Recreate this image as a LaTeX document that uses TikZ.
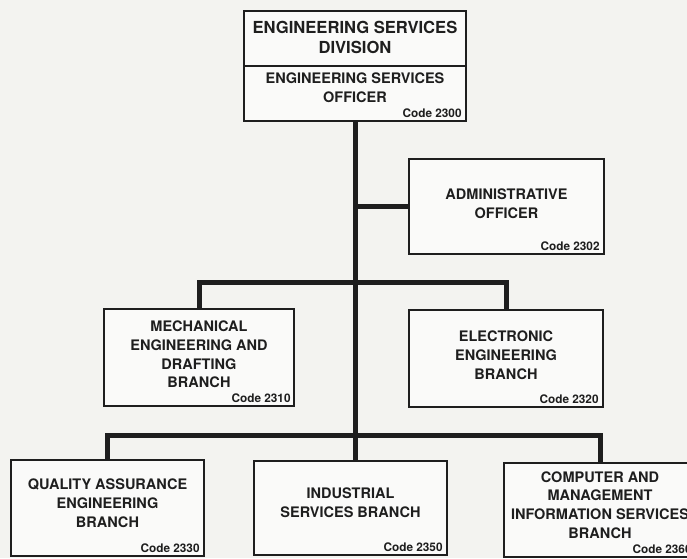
\documentclass[tikz,border=0pt]{standalone}
\usepackage{fontspec}
\setmainfont{TeX Gyre Heros}
\definecolor{paper}{RGB}{243,243,240}
\definecolor{ink}{RGB}{30,30,30}
\tikzset{
  orgbox/.style={draw=ink, line width=1.6pt, inner sep=0pt, fill=white!60!paper},
  bodytext/.style={text=ink, align=center, inner sep=0pt, font=\bfseries\fontsize{14.5}{18.8}\selectfont},
  titletext/.style={text=ink, align=center, inner sep=0pt, font=\bfseries\fontsize{16.6}{20}\selectfont},
  codetext/.style={text=ink, inner sep=0pt, anchor=south east, font=\bfseries\fontsize{11.8}{13}\selectfont},
  link/.style={draw=ink, line width=5pt, line join=miter}
}
\begin{document}
\begin{tikzpicture}[x=1pt,y=-1pt]
\fill[paper] (0,0) rectangle (687,558);
\clip (0,0) rectangle (687,558);
% boxes
\node[orgbox, minimum width=222pt, minimum height=110pt] (top) at (355,66) {};
\node[orgbox, minimum width=195pt, minimum height=95pt] (admin) at (506.5,206.5) {};
\node[orgbox, minimum width=190pt, minimum height=97pt] (mech) at (199,357.5) {};
\node[orgbox, minimum width=194pt, minimum height=97pt] (elec) at (506,358.5) {};
\node[orgbox, minimum width=193pt, minimum height=96pt] (qa) at (107.5,508) {};
\node[orgbox, minimum width=193pt, minimum height=94pt] (ind) at (350.5,508) {};
\node[orgbox, minimum width=192pt, minimum height=94pt] (comp) at (600,510) {};
% divider in top box
\draw[ink, line width=1.6pt] (top.west) -- (top.east);
% texts
\node[titletext] (toptitle) at (355,37.5) {ENGINEERING SERVICES\\DIVISION};
\node[bodytext] (topofficer) at (355,88) {ENGINEERING SERVICES\\OFFICER};
\node[codetext] (topcode) at ([shift={(-5pt,4pt)}]top.south east) {Code 2300};

\node[bodytext] (admintext) at ([yshift=3pt]admin.center) {ADMINISTRATIVE\\OFFICER};
\node[codetext] (admincode) at ([shift={(-5pt,4pt)}]admin.south east) {Code 2302};

\node[bodytext] (mechtext) at ([yshift=3pt]mech.center) {MECHANICAL\\ENGINEERING AND\\DRAFTING\\BRANCH};
\node[codetext] (mechcode) at ([shift={(-4pt,4pt)}]mech.south east) {Code 2310};

\node[bodytext] (electext) at ([yshift=3.5pt]elec.center) {ELECTRONIC\\ENGINEERING\\BRANCH};
\node[codetext] (eleccode) at ([shift={(-5pt,4pt)}]elec.south east) {Code 2320};

\node[bodytext] (qatext) at ([yshift=5pt]qa.center) {QUALITY ASSURANCE\\ENGINEERING\\BRANCH};
\node[codetext] (qacode) at ([shift={(-5pt,4pt)}]qa.south east) {Code 2330};

\node[bodytext] (indtext) at ([yshift=5pt]ind.center) {INDUSTRIAL\\SERVICES BRANCH};
\node[codetext] (indcode) at ([shift={(-5pt,4pt)}]ind.south east) {Code 2350};

\node[bodytext] (comptext) at ([yshift=5pt]comp.center) {COMPUTER AND\\MANAGEMENT\\INFORMATION SERVICES\\BRANCH};
\node[codetext] (compcode) at ([shift={(-5pt,4pt)}]comp.south east) {Code 2360};

% connectors
\coordinate (busmid) at (top.south |- 0,282);
\coordinate (buslow) at (top.south |- 0,435);
\draw[link] (top.south) -- (buslow);
\draw[link] (top.south |- admin.west) -- (admin.west);
\draw[link] (mech.north) |- (busmid) -| (elec.north);
\draw[link] (qa.north) |- (buslow) -| (comp.north);
\draw[link] (buslow) -- (buslow |- ind.north);
\end{tikzpicture}
\end{document}
